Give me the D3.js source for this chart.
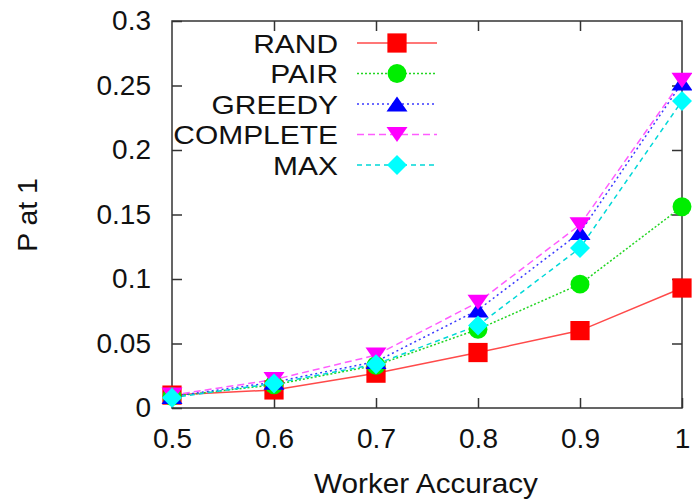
<!DOCTYPE html>
<html>
<head>
<meta charset="utf-8">
<script src="https://cdn.jsdelivr.net/npm/d3@7"></script>
<style>
  body { margin: 0; background: #fff; }
  text { font-family: "Liberation Sans", Arial, Helvetica, sans-serif; fill: #111; }
</style>
</head>
<body>
<div id="chart"></div>
<script>
'use strict';

const width = 692,
    height = 503,
    margin = {top: 21, right: 10, bottom: 95, left: 172};

// data
const accuracy = [0.5, 0.6, 0.7, 0.8, 0.9, 1.0];
const seriesNames = ["RAND", "PAIR", "GREEDY", "COMPLETE", "MAX"];
const rand     = [0.010, 0.014, 0.027, 0.043, 0.060, 0.093];
const pair     = [0.009, 0.018, 0.033, 0.061, 0.096, 0.156];
const greedy   = [0.009, 0.020, 0.036, 0.076, 0.136, 0.252];
const complete = [0.010, 0.022, 0.041, 0.082, 0.142, 0.254];
const maxVals  = [0.008, 0.019, 0.034, 0.064, 0.124, 0.238];
const xTicks = [0.5, 0.6, 0.7, 0.8, 0.9, 1];
const yTicks = [0, 0.05, 0.1, 0.15, 0.2, 0.25, 0.3];

// flat gnuplot-ish triangle, size = width in px
const flatTriangle = {
    draw(ctx, size) {
        const w = size / 2, h = size * 0.36;
        ctx.moveTo(0, -h);
        ctx.lineTo(w, h);
        ctx.lineTo(-w, h);
        ctx.closePath();
    }
};

const seriesValues = [rand, pair, greedy, complete, maxVals];
const styles = [
    {color: "#ff0000", line: "#ff4a4a", dash: null,  symbol: d3.symbolSquare, size: 370, rot: 0},
    {color: "#00ee00", line: "#22d522", dash: "2,2", symbol: d3.symbolCircle, size: 280, rot: 0},
    {color: "#0000ff", line: "#3a3aff", dash: "2,3", symbol: flatTriangle,    size: 21,  rot: 0},
    {color: "#ff00ff", line: "#ff5cff", dash: "7,4", symbol: flatTriangle,    size: 21,  rot: 180},
    {color: "#00ffff", line: "#00d8d8", dash: "5,4", symbol: d3.symbolSquare, size: 200, rot: 45}
];

const x = d3.scaleLinear().domain([0.5, 1]).range([margin.left, width - margin.right]);
const y = d3.scaleLinear().domain([0, 0.3]).range([height - margin.bottom, margin.top]);

const svg = d3.select("#chart").append("svg")
    .attr("width", width)
    .attr("height", height);

// axes, gnuplot style: ticks inside, box all round
const tickLen = 10;
svg.append("g")
    .attr("transform", `translate(0,${y(0)})`)
    .call(d3.axisBottom(x).tickValues(xTicks).tickSize(-tickLen).tickPadding(20)
        .tickFormat(d => d === 1 ? "1" : d3.format(".1f")(d)))
    .call(g => g.select(".domain").remove());
svg.append("g")
    .attr("transform", `translate(0,${y(0.3)})`)
    .call(d3.axisTop(x).tickValues(xTicks.slice(1, -1)).tickSize(-tickLen).tickFormat(""))
    .call(g => g.select(".domain").remove());
svg.append("g")
    .attr("transform", `translate(${x(0.5)},0)`)
    .call(d3.axisLeft(y).tickValues(yTicks).tickSize(-tickLen).tickPadding(21)
        .tickFormat(d => d === 0 ? "0" : String(+d.toFixed(2))))
    .call(g => g.select(".domain").remove());
svg.append("g")
    .attr("transform", `translate(${x(1)},0)`)
    .call(d3.axisRight(y).tickValues(yTicks.slice(1, -1)).tickSize(-tickLen).tickFormat(""))
    .call(g => g.select(".domain").remove());

svg.selectAll(".tick line").attr("stroke", "#333").attr("stroke-width", 1.5);
svg.selectAll(".tick text").style("font-size", "28px").attr("fill", "#111");

svg.append("rect")
    .attr("x", x(0.5)).attr("y", y(0.3))
    .attr("width", x(1) - x(0.5)).attr("height", y(0) - y(0.3))
    .attr("fill", "none").attr("stroke", "#333").attr("stroke-width", 1.5);

// axis titles
svg.append("text")
    .attr("transform", `translate(426,493) scale(1.1,1)`)
    .attr("text-anchor", "middle")
    .style("font-size", "27px")
    .text("Worker Accuracy");
svg.append("text")
    .attr("transform", `translate(37,215) rotate(-90) scale(1.05,1)`)
    .attr("text-anchor", "middle")
    .style("font-size", "27px")
    .text("P at 1");

// lines and points
const line = d3.line().x((d, i) => x(accuracy[i])).y(d => y(d));

seriesValues.forEach((vals, k) => {
    const s = styles[k];
    svg.append("path")
        .datum(vals)
        .attr("d", line)
        .attr("fill", "none")
        .attr("stroke", s.line)
        .attr("stroke-width", 1.5)
        .attr("stroke-dasharray", s.dash);
});

seriesValues.forEach((vals, k) => {
    const s = styles[k];
    svg.append("g").selectAll("path")
        .data(vals)
        .join("path")
        .attr("d", d3.symbol().type(s.symbol).size(s.size)())
        .attr("transform", (d, i) => `translate(${x(accuracy[i])},${y(d)}) rotate(${s.rot})`)
        .attr("fill", s.color);
});

// legend
const legend = svg.append("g");
seriesNames.forEach((name, k) => {
    const s = styles[k];
    const ly = 43 + k * 30.5;
    legend.append("text")
        .attr("transform", `translate(338,${ly}) scale(1.13,1)`)
        .attr("dy", "0.36em")
        .attr("text-anchor", "end")
        .style("font-size", "26.5px")
        .text(name);
    legend.append("line")
        .attr("x1", 357).attr("x2", 437)
        .attr("y1", ly).attr("y2", ly)
        .attr("stroke", s.line)
        .attr("stroke-width", 1.5)
        .attr("stroke-dasharray", s.dash);
    legend.append("path")
        .attr("d", d3.symbol().type(s.symbol).size(s.size)())
        .attr("transform", `translate(397,${ly}) rotate(${s.rot})`)
        .attr("fill", s.color);
});
</script>
</body>
</html>
